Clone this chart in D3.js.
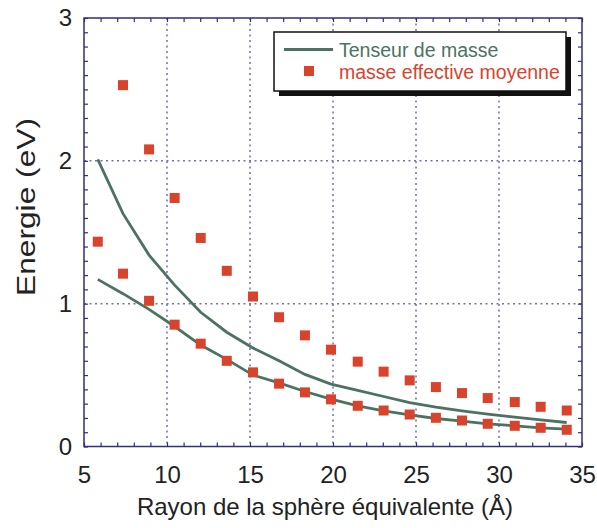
<!DOCTYPE html>
<html>
<head>
<meta charset="utf-8">
<script src="https://cdn.jsdelivr.net/npm/d3@7"></script>
<style>
  body { margin: 0; background: #fff; }
  svg { display: block; font-family: "Liberation Sans", Arial, Helvetica, sans-serif; }
</style>
</head>
<body>
<svg id="chart" width="597" height="528"></svg>
<script>
// rayon (Å) for each computed point
const rayon = [5.83, 7.35, 8.92, 10.46, 12.03, 13.6, 15.18, 16.75, 18.31, 19.88,
               21.49, 23.05, 24.62, 26.2, 27.77, 29.32, 30.95, 32.51, 34.08];

// Tenseur de masse (two curves)
const tenseurHaut = [2.01, 1.63, 1.34, 1.13, 0.94, 0.80, 0.69, 0.60, 0.505, 0.437,
                     0.393, 0.35, 0.308, 0.276, 0.25, 0.227, 0.206, 0.187, 0.168];
const tenseurBas = [1.17, 1.07, 0.96, 0.84, 0.71, 0.61, 0.50, 0.445, 0.385, 0.332,
                    0.285, 0.25, 0.222, 0.196, 0.178, 0.159, 0.145, 0.131, 0.122];

// masse effective moyenne (squares); first upper point is off the chart
const masseHaut = [null, 2.53, 2.08, 1.74, 1.46, 1.23, 1.05, 0.905, 0.778, 0.678,
                   0.594, 0.524, 0.463, 0.416, 0.374, 0.339, 0.311, 0.278, 0.252];
const masseBas = [1.434, 1.21, 1.02, 0.853, 0.72, 0.60, 0.519, 0.44, 0.379, 0.33,
                  0.285, 0.252, 0.224, 0.201, 0.182, 0.159, 0.145, 0.131, 0.117];

const xTicks = [5, 10, 15, 20, 25, 30, 35];
const yTicks = [0, 1, 2, 3];
const legendLabels = ["Tenseur de masse", "masse effective moyenne"];

const lineColor = "#4b7263";
const squareColor = "#d9432b";
const frameColor = "#2e2e86";
const gridColor = "#7070b0";

const pLeft = 84, pRight = 582, pTop = 18, pBottom = 446.5;

const svg = d3.select("#chart");

const x = d3.scaleLinear().domain([5, 35]).range([pLeft, pRight]);
const y = d3.scaleLinear().domain([0, 3]).range([pBottom, pTop]);

// grid
const grid = svg.append("g");
grid.selectAll("line.gx")
    .data(xTicks.slice(1, -1))
    .enter().append("line")
    .attr("x1", d => x(d)).attr("x2", d => x(d))
    .attr("y1", pTop).attr("y2", pBottom)
    .attr("stroke", gridColor)
    .attr("stroke-width", 1.5)
    .attr("stroke-dasharray", "2,3.5");
grid.selectAll("line.gy")
    .data(yTicks.slice(1, -1))
    .enter().append("line")
    .attr("x1", pLeft).attr("x2", pRight)
    .attr("y1", d => y(d)).attr("y2", d => y(d))
    .attr("stroke", gridColor)
    .attr("stroke-width", 1.5)
    .attr("stroke-dasharray", "2,3.5");

// axes with inward ticks
const xMinor = d3.range(5, 35.01, 1);
const yMinor = d3.range(0, 3.001, 0.1);

function styleAxis(g) {
    g.select(".domain").remove();
    g.selectAll("line").attr("stroke", frameColor).attr("stroke-width", 1.2);
}

svg.append("g").attr("transform", `translate(0,${pBottom})`)
    .call(d3.axisBottom(x).tickValues(xMinor).tickSize(-4).tickFormat(""))
    .call(styleAxis);
svg.append("g").attr("transform", `translate(0,${pTop})`)
    .call(d3.axisTop(x).tickValues(xMinor).tickSize(-4).tickFormat(""))
    .call(styleAxis);
svg.append("g").attr("transform", `translate(${pLeft},0)`)
    .call(d3.axisLeft(y).tickValues(yMinor).tickSize(-4).tickFormat(""))
    .call(styleAxis);
svg.append("g").attr("transform", `translate(${pRight},0)`)
    .call(d3.axisRight(y).tickValues(yMinor).tickSize(-4).tickFormat(""))
    .call(styleAxis);

// labelled axes
const xAxis = svg.append("g").attr("transform", `translate(0,${pBottom})`)
    .call(d3.axisBottom(x).tickValues(xTicks).tickSize(0).tickPadding(19).tickFormat(d3.format("d")));
xAxis.select(".domain").remove();
xAxis.selectAll("text").attr("font-size", 24).attr("fill", "#222")
    .attr("font-family", "Liberation Sans, Arial, sans-serif");

const yAxis = svg.append("g").attr("transform", `translate(${pLeft},0)`)
    .call(d3.axisLeft(y).tickValues(yTicks).tickSize(0).tickPadding(12).tickFormat(d3.format("d")));
yAxis.select(".domain").remove();
yAxis.selectAll("text").attr("font-size", 24).attr("fill", "#222")
    .attr("font-family", "Liberation Sans, Arial, sans-serif");

// frame
svg.append("rect")
    .attr("x", pLeft).attr("y", pTop)
    .attr("width", pRight - pLeft).attr("height", pBottom - pTop)
    .attr("fill", "none")
    .attr("stroke", frameColor)
    .attr("stroke-width", 1.5);

// curves
const line = d3.line()
    .defined(d => d[1] != null)
    .x(d => x(d[0]))
    .y(d => y(d[1]));

[tenseurHaut, tenseurBas].forEach(serie => {
    svg.append("path")
        .datum(rayon.map((r, i) => [r, serie[i]]))
        .attr("d", line)
        .attr("fill", "none")
        .attr("stroke", lineColor)
        .attr("stroke-width", 2.8);
});

// squares
const sq = 10;
[masseHaut, masseBas].forEach(serie => {
    svg.append("g")
        .selectAll("rect")
        .data(rayon.map((r, i) => [r, serie[i]]).filter(d => d[1] != null))
        .enter().append("rect")
        .attr("x", d => x(d[0]) - sq / 2)
        .attr("y", d => y(d[1]) - sq / 2)
        .attr("width", sq)
        .attr("height", sq)
        .attr("fill", squareColor);
});

// axis titles
svg.append("text")
    .attr("x", 325).attr("y", 515)
    .attr("text-anchor", "middle")
    .attr("font-size", 24)
    .attr("fill", "#222")
    .text("Rayon de la sphère équivalente (Å)");

svg.append("text")
    .attr("transform", "translate(35,207) rotate(-90)")
    .attr("text-anchor", "middle")
    .attr("font-size", 25)
    .attr("textLength", 178)
    .attr("lengthAdjust", "spacingAndGlyphs")
    .attr("fill", "#222")
    .text("Energie (eV)");

// legend
const lg = svg.append("g");
lg.append("rect")
    .attr("x", 279).attr("y", 37)
    .attr("width", 292).attr("height", 59)
    .attr("fill", "#111");
lg.append("rect")
    .attr("x", 274).attr("y", 32)
    .attr("width", 292).attr("height", 59)
    .attr("fill", "#fff")
    .attr("stroke", "#111")
    .attr("stroke-width", 1.5);
lg.append("line")
    .attr("x1", 284).attr("x2", 333)
    .attr("y1", 49.5).attr("y2", 49.5)
    .attr("stroke", lineColor)
    .attr("stroke-width", 2.8);
lg.append("rect")
    .attr("x", 304).attr("y", 66)
    .attr("width", sq).attr("height", sq)
    .attr("fill", squareColor);
lg.selectAll("text")
    .data(legendLabels)
    .enter().append("text")
    .attr("x", 339)
    .attr("y", (d, i) => 57 + i * 21.5)
    .attr("font-size", 19.5)
    .attr("fill", (d, i) => i === 0 ? lineColor : squareColor)
    .text(d => d);
</script>
</body>
</html>
